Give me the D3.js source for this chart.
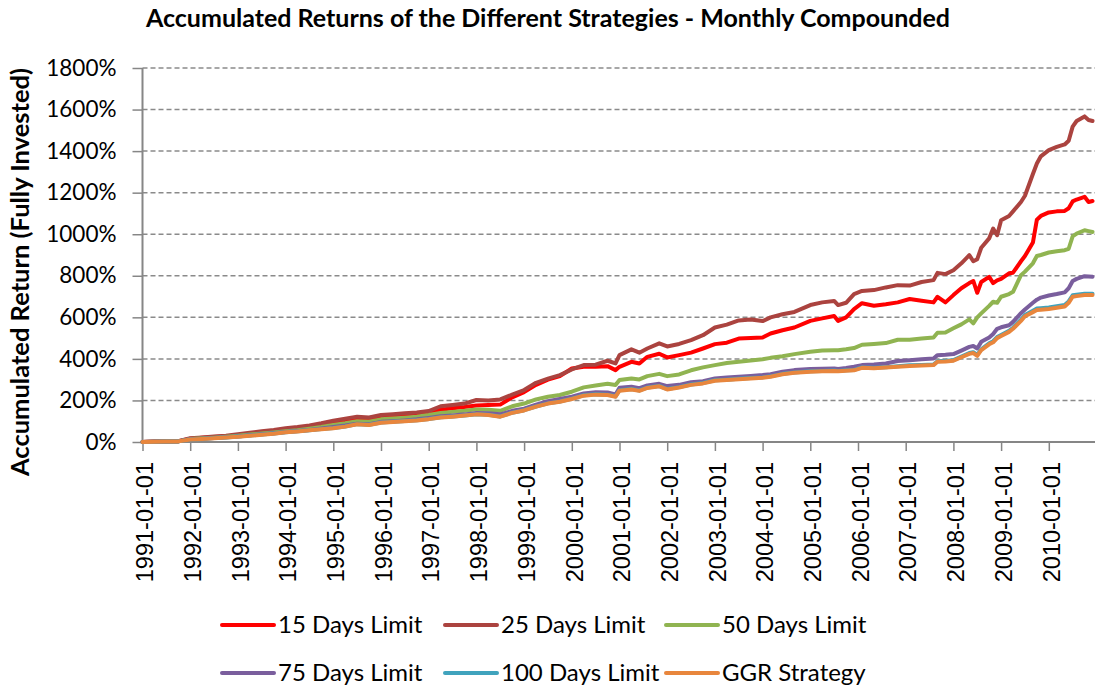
<!DOCTYPE html>
<html lang="en">
<meta charset="utf-8">

<head>
    <title>Accumulated Returns</title>
    <script src="https://d3js.org/d3.v7.min.js"></script>
    <style>
        body { margin: 0; background: #fff; }
        text { font-family: Lato, "Open Sans", sans-serif; fill: #000; }
    </style>
</head>

<body>
    <div id="plot"></div>
    <script>

        var months = [0, 3, 6, 9, 12, 15, 18, 21, 24, 27, 30, 33, 36, 39, 42, 45, 48, 51, 54, 57, 60, 63, 66, 69, 72, 75, 78, 81, 84, 87, 90, 93, 96, 99, 102, 105,
            108, 111, 114, 117, 119, 120, 123, 125, 127, 130, 132, 135, 138, 141, 144, 147, 150, 153, 156, 158, 161, 164, 168, 171, 174, 175, 177, 179, 181, 184, 187, 190,
            193, 196, 199, 200, 202, 204, 206, 208, 209, 210, 211, 213, 214, 215, 216, 218, 219, 221, 222, 224, 225, 226, 228, 230, 232, 233, 234, 235, 237, 238, 239];

        // accumulated return in %
        var days15 = [0, 2, 3, 4, 16, 20, 24, 28, 33, 40, 46, 52, 58, 64, 72, 82, 93, 102, 112, 110, 119, 124, 128, 134, 141, 155, 162, 168, 176, 178, 180, 215, 240, 275, 300, 317,
            354, 362, 362, 365, 346, 362, 386, 378, 410, 425, 407, 418, 430, 450, 471, 478, 498, 500, 503, 522, 538, 551, 583, 595, 606, 583, 600, 640, 668, 656, 663, 672,
            688, 680, 672, 699, 672, 707, 740, 765, 775, 718, 770, 795, 765, 778, 785, 812, 815, 870, 895, 960, 1070, 1088, 1105, 1110, 1112, 1125, 1158, 1167, 1180, 1155, 1160];

        var days25 = [0, 2, 3, 4, 18, 22, 26, 30, 37, 45, 52, 58, 66, 72, 80, 90, 102, 112, 122, 118, 130, 134, 138, 142, 149, 172, 178, 185, 202, 200, 205, 228, 250, 285, 305, 322,
            349, 370, 372, 391, 378, 418, 446, 430, 450, 475, 460, 472, 490, 514, 551, 565, 585, 590, 582, 600, 615, 626, 659, 672, 679, 659, 670, 712, 727, 731, 744, 755,
            753, 770, 779, 814, 808, 827, 860, 899, 870, 880, 935, 980, 1027, 995, 1067, 1088, 1110, 1155, 1185, 1290, 1340, 1375, 1405, 1420, 1432, 1450, 1518, 1545, 1567, 1550, 1545];

        var days50 = [0, 1, 2, 3, 14, 18, 21, 25, 30, 36, 41, 46, 52, 57, 64, 72, 82, 90, 100, 98, 109, 113, 117, 122, 130, 140, 145, 150, 157, 155, 150, 172, 185, 205, 218, 226,
            242, 263, 272, 280, 274, 298, 306, 301, 317, 328, 317, 325, 345, 359, 370, 380, 386, 392, 398, 405, 413, 423, 434, 440, 442, 442, 446, 452, 468, 472, 476, 492,
            492, 498, 503, 526, 527, 547, 566, 590, 571, 600, 619, 655, 675, 670, 699, 712, 723, 803, 820, 860, 895, 900, 912, 918, 923, 930, 990, 1003, 1019, 1015, 1011];

        var days75 = [0, 1, 2, 3, 13, 16, 19, 23, 27, 32, 37, 42, 48, 53, 58, 65, 72, 79, 88, 86, 97, 100, 104, 109, 116, 124, 128, 133, 140, 138, 133, 150, 160, 180, 196, 207,
            218, 234, 240, 238, 229, 261, 266, 259, 272, 280, 269, 275, 288, 293, 306, 310, 314, 318, 322, 326, 338, 346, 351, 352, 354, 351, 356, 362, 370, 373, 378, 390,
            394, 398, 402, 418, 420, 423, 440, 458, 462, 450, 482, 503, 520, 545, 552, 562, 578, 620, 638, 670, 685, 695, 705, 712, 720, 740, 775, 785, 798, 797, 795];

        var days100 = [0, 1, 2, 3, 12, 15, 19, 22, 26, 31, 36, 41, 47, 52, 57, 62, 67, 75, 86, 83, 94, 97, 101, 105, 111, 119, 123, 128, 134, 131, 123, 141, 153, 171, 186, 195,
            209, 225, 230, 228, 220, 249, 255, 248, 262, 270, 255, 264, 277, 284, 297, 300, 304, 308, 311, 316, 328, 335, 340, 342, 344, 342, 345, 347, 359, 357, 360, 364,
            369, 371, 373, 389, 391, 394, 411, 428, 432, 419, 446, 475, 485, 505, 515, 535, 550, 589, 611, 632, 642, 644, 647, 653, 659, 677, 706, 709, 714, 714, 714];

        var ggr = [0, 1, 2, 3, 12, 15, 18, 22, 25, 30, 35, 40, 47, 51, 56, 61, 66, 74, 85, 82, 93, 96, 100, 104, 110, 118, 122, 127, 133, 130, 122, 140, 152, 170, 185, 194,
            207, 223, 228, 226, 218, 247, 253, 246, 260, 268, 253, 262, 275, 282, 295, 298, 302, 306, 309, 314, 326, 333, 338, 340, 342, 340, 343, 345, 357, 355, 358, 362,
            366, 368, 370, 386, 388, 391, 408, 424, 428, 415, 442, 470, 480, 500, 510, 530, 545, 583, 605, 625, 635, 637, 640, 646, 652, 670, 699, 702, 707, 707, 707];

        var seriesNames = ["15 Days Limit", "25 Days Limit", "50 Days Limit", "75 Days Limit", "100 Days Limit", "GGR Strategy"];
        var seriesValues = [days15, days25, days50, days75, days100, ggr];
        var seriesColors = ["#ff0000", "#ab433f", "#90b451", "#7a5e9d", "#40a3bd", "#e8863d"];

        var yearTicks = ["1991-01-01", "1992-01-01", "1993-01-01", "1994-01-01", "1995-01-01", "1996-01-01", "1997-01-01",
            "1998-01-01", "1999-01-01", "2000-01-01", "2001-01-01", "2002-01-01", "2003-01-01", "2004-01-01", "2005-01-01",
            "2006-01-01", "2007-01-01", "2008-01-01", "2009-01-01", "2010-01-01"];
        var yTicks = [0, 200, 400, 600, 800, 1000, 1200, 1400, 1600, 1800];

        var W = 1095, H = 687;
        var plotLeft = 142.5, plotRight = 1096.5, plotTop = 68, plotBottom = 442;

        var svg = d3.select("#plot")
            .append("svg")
            .attr("width", W)
            .attr("height", H);

        var x = d3.scaleLinear().domain([0, 240]).range([plotLeft, plotRight]);
        var y = d3.scaleLinear().domain([0, 1800]).range([plotBottom, plotTop]);

        // title
        svg.append("text")
            .attr("x", 548)
            .attr("y", 27)
            .attr("text-anchor", "middle")
            .style("font-weight", "bold")
            .style("font-size", "25px")
            .text("Accumulated Returns of the Different Strategies - Monthly Compounded");

        // gridlines
        svg.append("g")
            .selectAll("line")
            .data(yTicks.slice(1))
            .enter()
            .append("line")
            .attr("x1", plotLeft)
            .attr("x2", W)
            .attr("y1", function (d) { return y(d); })
            .attr("y2", function (d) { return y(d); })
            .attr("stroke", "#8a8a8a")
            .attr("stroke-width", 1.5)
            .attr("stroke-dasharray", "5,3");

        // Y axis
        var yAxis = svg.append("g")
            .attr("transform", "translate(" + plotLeft + ",0)")
            .call(d3.axisLeft(y).tickValues(yTicks).tickSize(10).tickPadding(16)
                .tickFormat(function (d) { return d + "%"; }));
        yAxis.select(".domain").remove();
        yAxis.selectAll("line").attr("stroke", "#868686").attr("stroke-width", 1.5);
        yAxis.selectAll("text")
            .style("font-family", "Lato, sans-serif")
            .style("font-size", "22.5px");
        svg.append("line")
            .attr("x1", plotLeft).attr("x2", plotLeft)
            .attr("y1", plotTop).attr("y2", plotBottom)
            .attr("stroke", "#868686").attr("stroke-width", 2);

        // X axis
        var xAxis = svg.append("g")
            .attr("transform", "translate(0," + plotBottom + ")")
            .call(d3.axisBottom(x).tickValues(d3.range(0, 240, 12)).tickSize(9)
                .tickFormat(function (d, i) { return yearTicks[i]; }));
        xAxis.select(".domain").remove();
        xAxis.selectAll("line").attr("stroke", "#868686").attr("stroke-width", 1.5);
        xAxis.selectAll("text")
            .style("font-family", "'Liberation Sans', Arial, sans-serif")
            .style("font-size", "23.5px")
            .attr("transform", "rotate(-90)")
            .attr("text-anchor", "end")
            .attr("x", -20)
            .attr("y", 2)
            .attr("dy", "0.35em");
        svg.append("line")
            .attr("x1", plotLeft).attr("x2", W)
            .attr("y1", plotBottom).attr("y2", plotBottom)
            .attr("stroke", "#868686").attr("stroke-width", 2);

        // y axis title
        svg.append("text")
            .attr("transform", "translate(29,272) rotate(-90)")
            .attr("text-anchor", "middle")
            .style("font-weight", "bold")
            .style("font-size", "25.5px")
            .text("Accumulated Return (Fully Invested)");

        // lines
        var line = d3.line()
            .x(function (d) { return x(d[0]); })
            .y(function (d) { return y(d[1]); });

        seriesValues.forEach(function (vals, i) {
            var pts = months.map(function (m, j) { return [m, vals[j]]; });
            svg.append("path")
                .datum(pts)
                .attr("fill", "none")
                .attr("stroke", seriesColors[i])
                .attr("stroke-width", 4)
                .attr("stroke-linejoin", "round")
                .attr("stroke-linecap", "round")
                .attr("d", line);
        });

        // legend
        var legCols = [222, 445, 666], legRows = [625, 673];
        var leg = svg.append("g")
            .selectAll("g")
            .data(seriesNames)
            .enter()
            .append("g")
            .attr("transform", function (d, i) {
                return "translate(" + legCols[i % 3] + "," + legRows[Math.floor(i / 3)] + ")";
            });
        leg.append("line")
            .attr("x1", 0).attr("x2", 52)
            .attr("stroke", function (d, i) { return seriesColors[i]; })
            .attr("stroke-width", 4)
            .attr("stroke-linecap", "round");
        leg.append("text")
            .attr("x", 56)
            .attr("dy", "0.35em")
            .style("font-size", "24px")
            .text(function (d) { return d; });

    </script>

</body>

</html>
